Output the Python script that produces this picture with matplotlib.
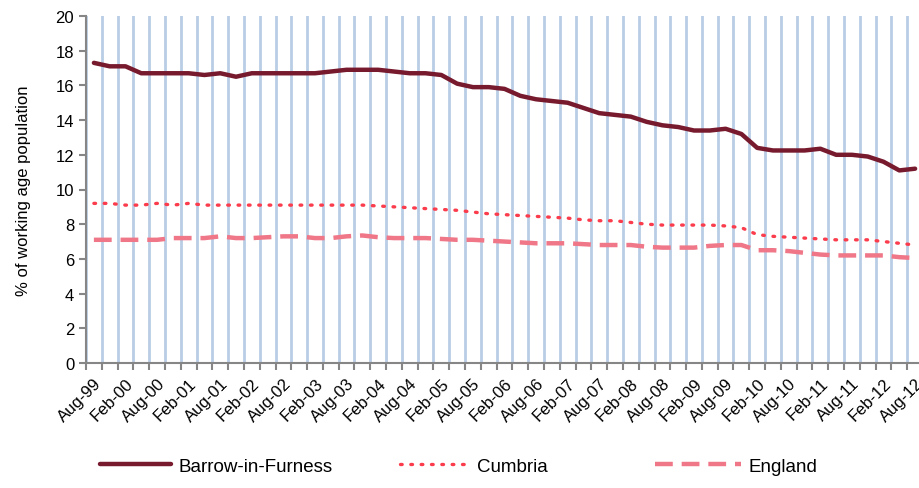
import numpy as np
import matplotlib.pyplot as plt

plt.rcParams['font.family'] = ['Liberation Sans', 'DejaVu Sans']

# quarterly, Aug-99 .. Aug-12
months = ['Aug', 'Nov', 'Feb', 'May']
period_labels = []
for i in range(53):
    # Aug/Nov belong to the starting year, Feb/May to the next
    y = (1999 + (i + 2) // 4) % 100
    period_labels.append(f'{months[i % 4]}-{y:02d}')

barrow = [17.3, 17.1, 17.1, 16.7, 16.7, 16.7, 16.7, 16.6, 16.7, 16.5,
          16.7, 16.7, 16.7, 16.7, 16.7, 16.8, 16.9, 16.9, 16.9, 16.8,
          16.7, 16.7, 16.6, 16.1, 15.9, 15.9, 15.8, 15.4, 15.2, 15.1,
          15.0, 14.7, 14.4, 14.3, 14.2, 13.9, 13.7, 13.6, 13.4, 13.4,
          13.5, 13.2, 12.4, 12.25, 12.25, 12.25, 12.35, 12.0, 12.0, 11.9,
          11.6, 11.1, 11.2]
cumbria = [9.2, 9.2, 9.1, 9.1, 9.2, 9.1, 9.2, 9.1, 9.1, 9.1,
           9.1, 9.1, 9.1, 9.1, 9.1, 9.1, 9.1, 9.1, 9.05, 9.0,
           8.95, 8.9, 8.85, 8.8, 8.7, 8.6, 8.55, 8.5, 8.45, 8.4,
           8.35, 8.25, 8.2, 8.2, 8.1, 8.0, 7.95, 7.95, 7.95, 7.95,
           7.9, 7.8, 7.4, 7.3, 7.25, 7.2, 7.15, 7.1, 7.1, 7.1,
           7.0, 6.9, 6.8]
england = [7.1, 7.1, 7.1, 7.1, 7.1, 7.2, 7.2, 7.2, 7.3, 7.2,
           7.2, 7.25, 7.3, 7.3, 7.2, 7.2, 7.3, 7.35, 7.25, 7.2,
           7.2, 7.2, 7.15, 7.1, 7.1, 7.05, 7.0, 6.95, 6.9, 6.9,
           6.9, 6.85, 6.8, 6.8, 6.8, 6.7, 6.65, 6.65, 6.65, 6.75,
           6.8, 6.8, 6.5, 6.5, 6.45, 6.35, 6.25, 6.2, 6.2, 6.2,
           6.2, 6.1, 6.05]

x = np.arange(len(period_labels))

fig = plt.figure(figsize=(9.19, 4.89), dpi=100)
ax = fig.add_axes([86 / 919, 1 - 364 / 489, 837 / 919, 347 / 489])

ax.plot(x, barrow, color='#771A2E', linewidth=3.2, solid_capstyle='round',
        label='Barrow-in-Furness', zorder=3)
ax.plot(x, cumbria, color='#FA3C4C', linewidth=2.4, linestyle=(0, (0.5, 2.6)),
        dash_capstyle='round', label='Cumbria', zorder=3)
ax.plot(x, england, color='#EF7788', linewidth=3.2, linestyle=(0, (4, 2)),
        label='England', zorder=3)

ax.set_xlim(-0.5, len(x) - 0.5)
ax.set_ylim(0, 20)
ax.set_yticks(range(0, 21, 2))

ax.set_xticks(x[::2])
ax.set_xticklabels(period_labels[::2], rotation=45, ha='right',
                   rotation_mode='anchor', fontsize=12)
ax.set_xticks(np.arange(-0.5, len(x), 1), minor=True)
ax.tick_params(axis='x', which='major', length=0, pad=9)
ax.tick_params(axis='x', which='minor', length=5, width=1.5, color='#868686')
ax.tick_params(axis='y', length=5, width=1.5, color='#868686', labelsize=12)
ax.grid(True, axis='x', which='minor', color='#B9CDE5', linewidth=2)
ax.set_axisbelow(True)

for s in ['top', 'right']:
    ax.spines[s].set_visible(False)
for s in ['left', 'bottom']:
    ax.spines[s].set_color('#868686')
    ax.spines[s].set_linewidth(1.5)

ax.set_ylabel('% of working age population', fontsize=12, labelpad=18)

# one legend per series, spaced like the original
lines = ax.get_lines()
for ln, xpos, hl in zip(lines, [100, 400, 655], [3.8, 3.7, 4.6]):
    fig.legend(handles=[ln], loc='center left',
               bbox_to_anchor=(xpos / 919, 1 - 467 / 489),
               frameon=False, borderpad=0, borderaxespad=0,
               handlelength=hl, handletextpad=0.4, fontsize=13.5)

fig.savefig('out.png', dpi=100)
